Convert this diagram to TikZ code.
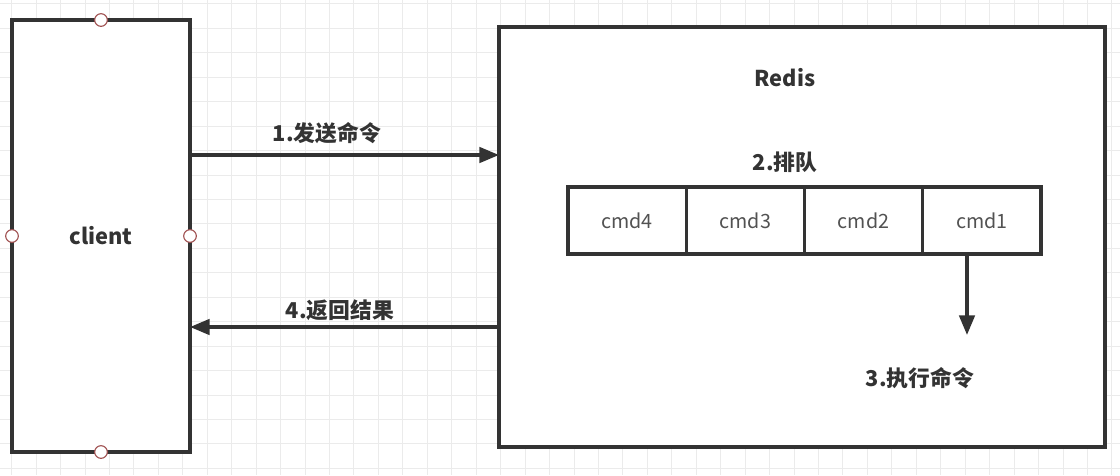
\documentclass[tikz,border=0pt]{standalone}
\usepackage{fontspec}
\setmainfont{Noto Sans CJK SC}
\usetikzlibrary{arrows.meta}
\definecolor{ink}{HTML}{333333}
\definecolor{gridc}{HTML}{EBEBEB}
\definecolor{port}{HTML}{A05050}
\tikzset{
  box/.style={draw=ink, line width=2.5pt, fill=white, outer sep=0pt},
  cell/.style={draw=ink, line width=2.3pt, fill=white, outer sep=0pt, minimum width=118.25*0.025cm, minimum height=67*0.025cm, inner sep=0pt, font=\fontsize{14}{16}\selectfont, text=ink!85},
  lbl/.style={font=\bfseries\fontsize{15.5}{18}\selectfont, text=ink},
  conn/.style={draw=ink, line width=2.4pt, -{Triangle[length=14pt,width=11pt]}},
  portc/.style={circle, draw=port, fill=white, line width=0.8pt, minimum size=9pt, inner sep=0pt}
}
\begin{document}
\begin{tikzpicture}[x=0.025cm, y=-0.025cm]
\useasboundingbox (0,0) rectangle (1120,475);
\fill[white] (0,0) rectangle (1120,475);
\foreach \i in {0,...,46} {\draw[gridc, line width=0.6pt] (11.6+24.45*\i,0) -- (11.6+24.45*\i,475);}
\foreach \j in {0,...,19} {\draw[gridc, line width=0.6pt] (0,3.8+24.45*\j) -- (1120,3.8+24.45*\j);}
% client
\node[box, minimum width=178*0.025cm, minimum height=432*0.025cm, inner sep=0pt, anchor=north west] (client) at (12,20) {};
\node[lbl] (clientl) at (client.center) {client};
\node[portc] (p1) at (client.north) {};
\node[portc] (p2) at (client.south) {};
\node[portc] (p3) at (client.west) {};
\node[portc] (p4) at (client.east) {};
% redis
\node[box, minimum width=606*0.025cm, minimum height=420*0.025cm, inner sep=0pt, anchor=north west] (redis) at (499,27) {};
\node[lbl] (redisl) at (785,78) {Redis};
\node[lbl] (queue) at (785,162) {2.排队};
\node[cell, anchor=north west] (c4) at (568,187) {cmd4};
\node[cell, anchor=west] (c3) at (c4.east) {cmd3};
\node[cell, anchor=west] (c2) at (c3.east) {cmd2};
\node[cell, anchor=west] (c1) at (c2.east) {cmd1};
\coordinate (e1) at (967,254);
\coordinate (e2) at (967,335);
\draw[conn] (e1) -- (e2);
\node[lbl] (exec) at (920,378) {3.执行命令};
% arrows
\coordinate (a1s) at (190,155);
\coordinate (a1e) at (499,155);
\draw[conn] (a1s) -- (a1e);
\node[lbl] (send) at (327,133) {1.发送命令};
\coordinate (a4s) at (499,327);
\coordinate (a4e) at (190,327);
\draw[conn] (a4s) -- (a4e);
\node[lbl] (ret) at (340,310) {4.返回结果};
\end{tikzpicture}
\end{document}
